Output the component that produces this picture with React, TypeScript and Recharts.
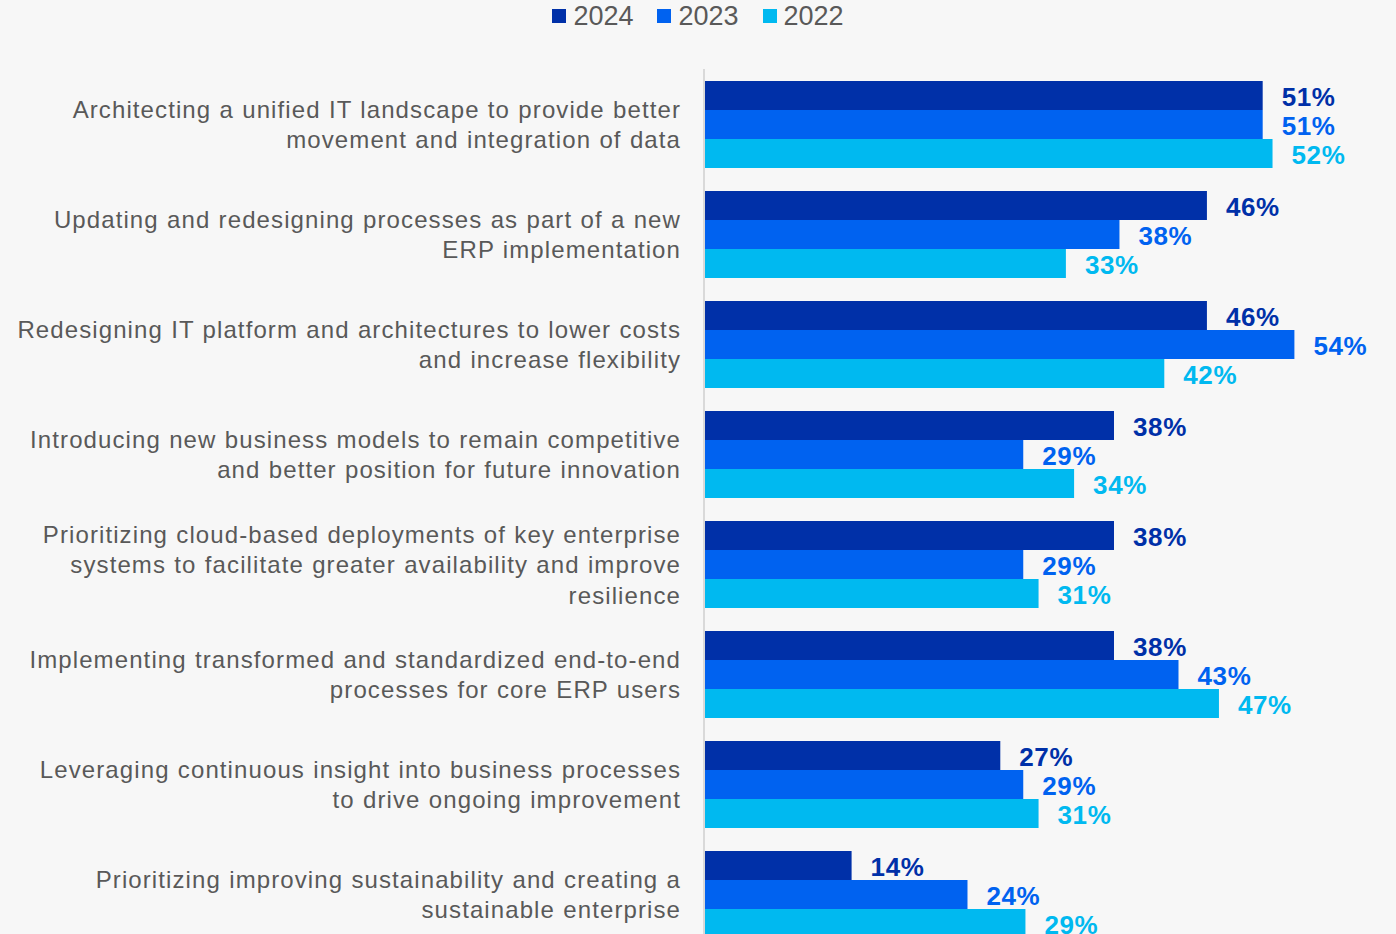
import { BarChart, Bar, XAxis, YAxis, Legend, LabelList } from 'recharts';

const categories = [
  'Architecting a unified IT landscape to provide better\nmovement and integration of data',
  'Updating and redesigning processes as part of a new\nERP implementation',
  'Redesigning IT platform and architectures to lower costs\nand increase flexibility',
  'Introducing new business models to remain competitive\nand better position for future innovation',
  'Prioritizing cloud-based deployments of key enterprise\nsystems to facilitate greater availability and improve\nresilience',
  'Implementing transformed and standardized end-to-end\nprocesses for core ERP users',
  'Leveraging continuous insight into business processes\nto drive ongoing improvement',
  'Prioritizing improving sustainability and creating a\nsustainable enterprise',
];

const values2024 = [51.1, 46, 46, 37.5, 37.5, 37.5, 27.1, 13.5];
const values2023 = [51.1, 38, 54, 29.2, 29.2, 43.4, 29.2, 24.1];
const values2022 = [52, 33.1, 42.1, 33.85, 30.6, 47.1, 30.6, 29.4];

const SERIES = [
  { key: 'y2024', name: '2024', color: '#0030A8', values: values2024 },
  { key: 'y2023', name: '2023', color: '#0062F0', values: values2023 },
  { key: 'y2022', name: '2022', color: '#00B9F0', values: values2022 },
];

const FONT = '"Liberation Sans", Arial, sans-serif';
const GRAY = '#595959';

const data = categories.map((c, i) => ({
  category: c,
  y2024: values2024[i],
  y2023: values2023[i],
  y2022: values2022[i],
}));

// eslint-disable-next-line @typescript-eslint/no-explicit-any
const CategoryTick = ({ x, y, payload }: any) => {
  const lines = String(payload.value).split('\n');
  const lh = 30.5;
  const first = y - ((lines.length - 1) * lh) / 2 + 9;
  return (
    <text
      x={x}
      y={first}
      textAnchor="end"
      fill={GRAY}
      fontSize={24}
      fontFamily={FONT}
      style={{ letterSpacing: '1.1px', wordSpacing: '0.5px' }}
    >
      {lines.map((l, i) => (
        <tspan key={i} x={x} y={first + i * lh}>
          {l}
        </tspan>
      ))}
    </text>
  );
};

const makeValueLabel = (color: string) =>
  // eslint-disable-next-line @typescript-eslint/no-explicit-any
  (props: any) => {
    const { x, y, width, height, value } = props;
    return (
      <text
        x={Number(x) + Number(width) + 19}
        y={Number(y) + Number(height) / 2 + 10}
        fill={color}
        fontSize={26}
        fontWeight="bold"
        fontFamily={FONT}
        style={{ letterSpacing: '0.6px' }}
      >
        {Math.round(Number(value))}%
      </text>
    );
  };

const LegendContent = () => (
  <div style={{ height: 69, display: 'flex', justifyContent: 'center', alignItems: 'flex-start', gap: 24 }}>
    {SERIES.map((s) => (
      <div key={s.key} style={{ display: 'flex', alignItems: 'center' }}>
        <span style={{ width: 14, height: 14, background: s.color, display: 'inline-block', marginRight: 7 }} />
        <span style={{ fontFamily: FONT, fontSize: 27, color: GRAY, lineHeight: '32px' }}>{s.name}</span>
      </div>
    ))}
  </div>
);

export default function App() {
  return (
    <div style={{ width: 1396, height: 934, overflow: 'hidden', background: '#F7F7F7' }}>
      <style>{'body{margin:0;background:#F7F7F7}'}</style>
      <BarChart
        width={1396}
        height={960}
        data={data}
        layout="vertical"
        margin={{ top: 0, right: 36, left: 0, bottom: 11 }}
        barCategoryGap={12}
        barGap={0}
      >
        <Legend
          verticalAlign="top"
          align="center"
          content={<LegendContent />}
          wrapperStyle={{ left: 0, width: 1396, top: 0 }}
        />
        <XAxis type="number" domain={[0, 60]} hide />
        <YAxis
          type="category"
          dataKey="category"
          width={704}
          tickLine={false}
          tickSize={0}
          tickMargin={23}
          axisLine={{ stroke: '#D9D9D9', strokeWidth: 2 }}
          tick={<CategoryTick />}
          interval={0}
        />
        {SERIES.map((s) => (
          <Bar key={s.key} dataKey={s.key} name={s.name} fill={s.color} isAnimationActive={false}>
            <LabelList dataKey={s.key} content={makeValueLabel(s.color)} />
          </Bar>
        ))}
      </BarChart>
    </div>
  );
}
